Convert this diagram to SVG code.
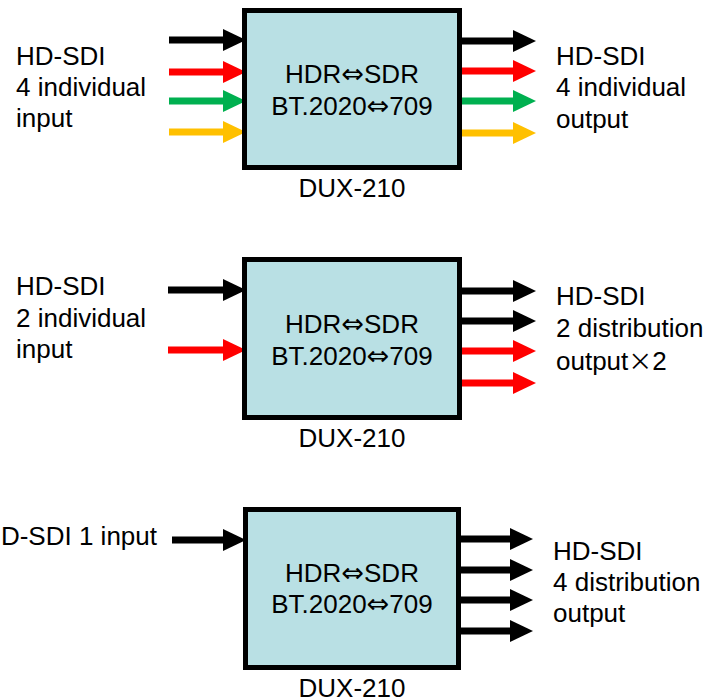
<svg xmlns="http://www.w3.org/2000/svg" width="719" height="697" viewBox="0 0 719 697">
<defs>
<style>
text{font-family:"Liberation Sans",Arial,sans-serif;font-size:26px;fill:#000}
.c{text-anchor:middle}
.ar{font-family:"DejaVu Sans",sans-serif;font-size:27px}
.x{font-family:"Noto Sans CJK JP",sans-serif;font-size:24px}
.box{fill:#B9E0E4;stroke:#000;stroke-width:5}
.a{stroke-width:7;fill:none}
.k{stroke:#000}.r{stroke:#FF0000}.g{stroke:#00B050}.y{stroke:#FFC000}
</style>
<marker id="mk" markerUnits="userSpaceOnUse" markerWidth="23" markerHeight="22" viewBox="0 0 23 22" refX="0" refY="11" orient="auto"><path d="M0,0L23,11L0,22z" fill="#000"/></marker>
<marker id="mr" markerUnits="userSpaceOnUse" markerWidth="23" markerHeight="22" viewBox="0 0 23 22" refX="0" refY="11" orient="auto"><path d="M0,0L23,11L0,22z" fill="#FF0000"/></marker>
<marker id="mg" markerUnits="userSpaceOnUse" markerWidth="23" markerHeight="22" viewBox="0 0 23 22" refX="0" refY="11" orient="auto"><path d="M0,0L23,11L0,22z" fill="#00B050"/></marker>
<marker id="my" markerUnits="userSpaceOnUse" markerWidth="23" markerHeight="22" viewBox="0 0 23 22" refX="0" refY="11" orient="auto"><path d="M0,0L23,11L0,22z" fill="#FFC000"/></marker>
</defs>
<rect width="719" height="697" fill="#fff"/>
<g id="connectors">
<line class="a k" x1="169" y1="40" x2="223" y2="40" marker-end="url(#mk)"/>
<line class="a r" x1="169" y1="72" x2="223" y2="72" marker-end="url(#mr)"/>
<line class="a g" x1="169" y1="101" x2="223" y2="101" marker-end="url(#mg)"/>
<line class="a y" x1="169" y1="132" x2="223" y2="132" marker-end="url(#my)"/>
<line class="a k" x1="460" y1="41" x2="513" y2="41" marker-end="url(#mk)"/>
<line class="a r" x1="460" y1="71" x2="513" y2="71" marker-end="url(#mr)"/>
<line class="a g" x1="460" y1="101" x2="513" y2="101" marker-end="url(#mg)"/>
<line class="a y" x1="460" y1="133" x2="513" y2="133" marker-end="url(#my)"/>
<line class="a k" x1="168" y1="290" x2="223" y2="290" marker-end="url(#mk)"/>
<line class="a r" x1="168" y1="350" x2="223" y2="350" marker-end="url(#mr)"/>
<line class="a k" x1="460" y1="291" x2="513" y2="291" marker-end="url(#mk)"/>
<line class="a k" x1="460" y1="321" x2="513" y2="321" marker-end="url(#mk)"/>
<line class="a r" x1="460" y1="351" x2="513" y2="351" marker-end="url(#mr)"/>
<line class="a r" x1="460" y1="383" x2="513" y2="383" marker-end="url(#mr)"/>
<line class="a k" x1="172" y1="540" x2="223" y2="540" marker-end="url(#mk)"/>
<line class="a k" x1="459" y1="539" x2="510" y2="539" marker-end="url(#mk)"/>
<line class="a k" x1="459" y1="570" x2="510" y2="570" marker-end="url(#mk)"/>
<line class="a k" x1="459" y1="600" x2="510" y2="600" marker-end="url(#mk)"/>
<line class="a k" x1="459" y1="631" x2="510" y2="631" marker-end="url(#mk)"/>
</g>
<g id="box1">
<rect class="box" x="244.5" y="10.5" width="215" height="157"/>
<text class="c" x="352" y="83">HDR<tspan class="ar">⇔</tspan>SDR</text>
<text class="c" x="352" y="115">BT.2020<tspan class="ar">⇔</tspan>709</text>
<text class="c" x="352" y="197">DUX-210</text>
</g>
<g id="box2">
<rect class="box" x="244.5" y="259.5" width="215" height="158"/>
<text class="c" x="352" y="333">HDR<tspan class="ar">⇔</tspan>SDR</text>
<text class="c" x="352" y="365">BT.2020<tspan class="ar">⇔</tspan>709</text>
<text class="c" x="352" y="447">DUX-210</text>
</g>
<g id="box3">
<rect class="box" x="245.5" y="509.5" width="213" height="158"/>
<text class="c" x="352" y="582">HDR<tspan class="ar">⇔</tspan>SDR</text>
<text class="c" x="352" y="613">BT.2020<tspan class="ar">⇔</tspan>709</text>
<text class="c" x="352" y="697">DUX-210</text>
</g>
<g id="labels1">
<text x="16" y="65">HD-SDI</text>
<text x="16" y="96">4 individual</text>
<text x="16" y="127">input</text>
<text x="556" y="65">HD-SDI</text>
<text x="556" y="96">4 individual</text>
<text x="556" y="128">output</text>
</g>
<g id="labels2">
<text x="16" y="295">HD-SDI</text>
<text x="16" y="327">2 individual</text>
<text x="16" y="358">input</text>
<text x="556" y="305">HD-SDI</text>
<text x="556" y="337">2 distribution</text>
<text x="556" y="370">output<tspan class="x">×</tspan>2</text>
</g>
<g id="labels3">
<text x="157" y="545" text-anchor="end">HD-SDI 1 input</text>
<text x="553" y="560">HD-SDI</text>
<text x="553" y="591">4 distribution</text>
<text x="553" y="622">output</text>
</g>
</svg>
